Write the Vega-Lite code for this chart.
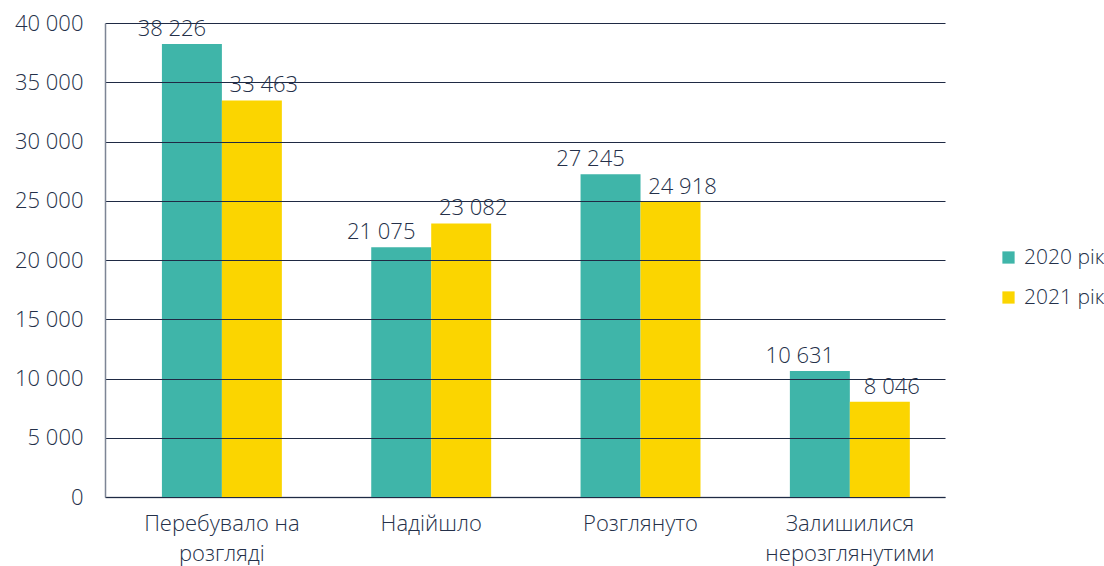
{
  "$schema": "https://vega.github.io/schema/vega-lite/v6.json",
  "width": 840,
  "height": 474,
  "autosize": {"type": "none"},
  "padding": {"left": 105, "top": 23, "right": 159, "bottom": 69},
  "config": {
    "locale": {"number": {"decimal": ",", "thousands": " ", "grouping": [3], "currency": ["", ""]}},
    "view": {"stroke": null},
    "font": "Open Sans"
  },
  "data": {
    "values": [
      {"category": "Перебувало на розгляді", "year": "2020 рік", "value": 38226},
      {"category": "Перебувало на розгляді", "year": "2021 рік", "value": 33463},
      {"category": "Надійшло", "year": "2020 рік", "value": 21075},
      {"category": "Надійшло", "year": "2021 рік", "value": 23082},
      {"category": "Розглянуто", "year": "2020 рік", "value": 27245},
      {"category": "Розглянуто", "year": "2021 рік", "value": 24918},
      {"category": "Залишилися нерозглянутими", "year": "2020 рік", "value": 10631},
      {"category": "Залишилися нерозглянутими", "year": "2021 рік", "value": 8046}
    ]
  },
  "encoding": {
    "x": {
      "field": "category",
      "type": "nominal",
      "sort": null,
      "scale": {"paddingInner": 0.427, "paddingOuter": 0.22, "align": 0.618},
      "axis": {
        "title": null,
        "labelAngle": 0,
        "ticks": false,
        "domainColor": "#7d8595",
        "domainWidth": 1.5,
        "labelFontSize": 22,
        "labelFontWeight": 300,
        "labelColor": "#243049",
        "labelPadding": 16,
        "labelLineHeight": 30,
        "labelLimit": 300,
        "labelExpr": "datum.label == 'Перебувало на розгляді' ? ['Перебувало на', 'розгляді'] : datum.label == 'Залишилися нерозглянутими' ? ['Залишилися', 'нерозглянутими'] : datum.label"
      }
    },
    "xOffset": {"field": "year", "type": "nominal", "scale": {"paddingInner": 0, "paddingOuter": 0}},
    "y": {
      "field": "value",
      "type": "quantitative",
      "scale": {"domain": [0, 40000], "nice": false},
      "axis": {
        "title": null,
        "values": [0, 5000, 10000, 15000, 20000, 25000, 30000, 35000, 40000],
        "format": ",d",
        "grid": true,
        "gridColor": "#1f2a44",
        "gridWidth": 1,
        "ticks": false,
        "domainColor": "#7d8595",
        "domainWidth": 1.5,
        "labelFontSize": 22,
        "labelFontWeight": 300,
        "labelColor": "#243049",
        "labelPadding": 22,
        "zindex": 1
      }
    }
  },
  "layer": [
    {
      "mark": {"type": "bar"},
      "encoding": {
        "color": {
          "field": "year",
          "type": "nominal",
          "scale": {"domain": ["2020 рік", "2021 рік"], "range": ["#3fb5a9", "#fbd500"]},
          "legend": {
            "title": null,
            "orient": "none",
            "legendX": 893,
            "legendY": 224,
            "padding": 0,
            "symbolType": "square",
            "symbolSize": 150,
            "symbolStrokeWidth": 0,
            "labelFontSize": 21,
            "labelFontWeight": 300,
            "labelColor": "#243049",
            "labelOffset": 5,
            "rowPadding": 18
          }
        }
      }
    },
    {
      "transform": [{"filter": "datum.year == '2020 рік'"}],
      "mark": {"type": "text", "baseline": "bottom", "dy": -3, "dx": -20, "fontSize": 22, "fontWeight": 300, "color": "#243049"},
      "encoding": {
        "text": {"field": "value", "type": "quantitative", "format": ",d"}
      }
    },
    {
      "transform": [{"filter": "datum.year == '2021 рік'"}],
      "mark": {"type": "text", "baseline": "bottom", "dy": -3, "dx": 12, "fontSize": 22, "fontWeight": 300, "color": "#243049"},
      "encoding": {
        "text": {"field": "value", "type": "quantitative", "format": ",d"}
      }
    }
  ]
}
